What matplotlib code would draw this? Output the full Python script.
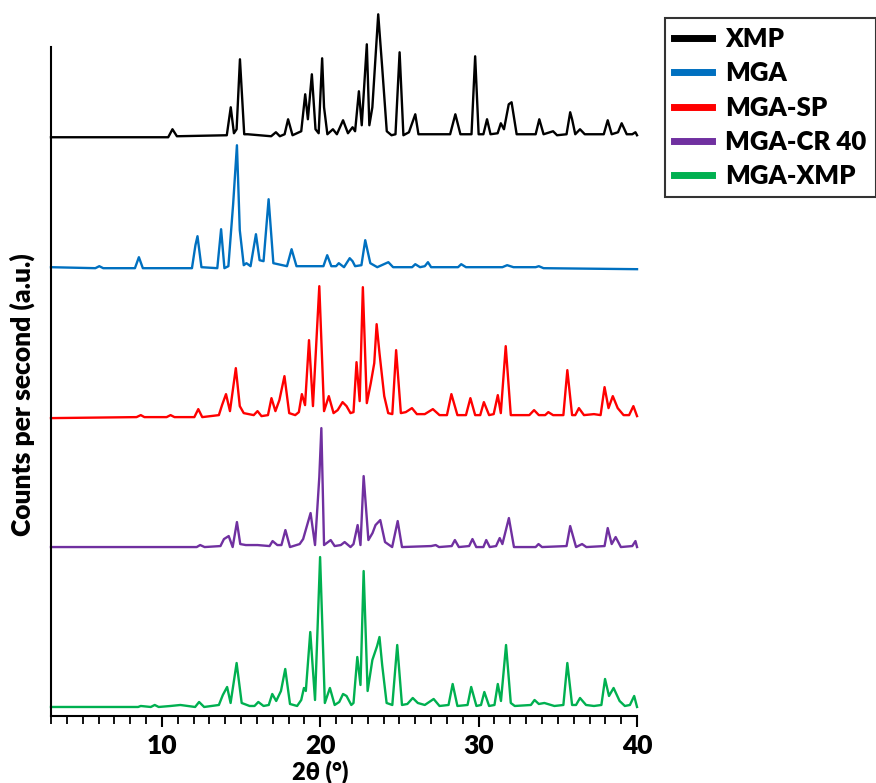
import matplotlib
matplotlib.use("Agg")
import matplotlib.pyplot as plt
from matplotlib.ticker import MultipleLocator

matplotlib.rcParams['font.family'] = ['Lato', 'DejaVu Sans']
matplotlib.rcParams['font.weight'] = 'heavy'

# peak / valley vertices: (2theta, intensity above baseline)
xmp_x = [3.0, 10.4, 10.67, 10.95, 14.1, 14.35, 14.55, 14.72, 14.93, 15.2, 15.42, 16.9, 17.2, 17.45, 17.75, 17.97, 18.25, 18.8, 19.05, 19.22, 19.47, 19.7, 19.9, 20.12, 20.24, 20.45, 20.8, 21.05, 21.44, 21.75, 22.04, 22.2, 22.44, 22.62, 22.94, 23.1, 23.29, 23.66, 23.91, 24.2, 24.5, 24.75, 25.01, 25.25, 25.6, 26.0, 26.2, 27.3, 28.2, 28.53, 28.85, 29.55, 29.78, 30.0, 30.3, 30.53, 30.75, 31.2, 31.4, 31.6, 31.9, 32.08, 32.4, 33.6, 33.83, 34.1, 34.7, 34.95, 35.55, 35.78, 35.9, 36.1, 36.4, 36.7, 37.9, 38.15, 38.4, 38.8, 39.03, 39.35, 39.7, 39.9, 40.0]
xmp_y = [0, 0, 8, 1, 2, 30, 4, 8, 78, 3, 3, 1, 5, 1, 3, 18, 2, 6, 43, 18, 63, 8, 4, 79, 30, 3, 8, 3, 17, 4, 10, 6, 46, 12, 93, 12, 30, 123, 70, 6, 2, 3, 85, 2, 5, 23, 3, 3, 3, 23, 3, 3, 81, 3, 3, 18, 3, 4, 14, 8, 33, 35, 3, 3, 18, 3, 6, 2, 3, 25, 18, 3, 8, 3, 3, 17, 3, 5, 14, 3, 3, 5, 2]

mga_x = [3.0, 5.8, 6.05, 6.3, 8.3, 8.55, 8.8, 11.9, 12.12, 12.25, 12.5, 13.5, 13.74, 13.95, 14.2, 14.5, 14.74, 14.92, 15.17, 15.34, 15.6, 15.94, 16.17, 16.42, 16.74, 17.04, 17.9, 18.19, 18.5, 20.2, 20.44, 20.7, 21.0, 21.17, 21.5, 21.86, 22.04, 22.2, 22.6, 22.84, 23.16, 23.6, 24.3, 24.6, 25.8, 26.0, 26.3, 26.6, 26.8, 27.0, 28.7, 28.9, 29.2, 31.5, 31.8, 32.2, 33.6, 33.8, 34.1, 40.0]
mga_y = [2, 1, 3, 1, 1, 12, 1, 1, 24, 33, 2, 1, 40, 1, 3, 65, 124, 39, 4, 6, 3, 35, 9, 8, 70, 6, 3, 20, 3, 3, 14, 3, 3, 6, 2, 11, 8, 3, 4, 29, 6, 2, 7, 2, 2, 5, 2, 3, 7, 2, 2, 5, 2, 2, 4, 2, 2, 3, 1, 0]

sp_x = [3.0, 8.4, 8.67, 8.9, 10.3, 10.55, 10.8, 12.05, 12.3, 12.55, 13.6, 13.8, 14.05, 14.3, 14.67, 14.92, 15.17, 15.8, 16.04, 16.29, 16.7, 16.92, 17.17, 17.42, 17.74, 18.04, 18.42, 18.65, 18.84, 19.04, 19.29, 19.54, 19.94, 20.24, 20.54, 20.84, 21.1, 21.41, 21.66, 21.91, 22.1, 22.29, 22.49, 22.69, 22.94, 23.19, 23.41, 23.56, 23.74, 24.04, 24.29, 24.55, 24.79, 25.09, 25.4, 25.79, 26.1, 26.6, 27.11, 27.53, 28.0, 28.28, 28.66, 29.2, 29.48, 29.78, 30.1, 30.33, 30.66, 30.95, 31.21, 31.4, 31.71, 32.03, 33.2, 33.5, 33.8, 34.2, 34.4, 34.7, 35.35, 35.6, 35.9, 36.1, 36.33, 36.65, 37.28, 37.7, 37.95, 38.2, 38.47, 38.78, 39.15, 39.5, 39.77, 40.0]
sp_y = [0, 1, 3, 1, 1, 3, 1, 1, 9, 1, 3, 13, 24, 7, 50, 12, 5, 3, 7, 2, 3, 20, 7, 18, 42, 5, 3, 6, 24, 13, 78, 12, 132, 7, 22, 5, 8, 16, 12, 5, 6, 56, 17, 131, 15, 35, 55, 94, 65, 22, 5, 4, 68, 5, 6, 10, 4, 4, 9, 3, 3, 24, 3, 3, 20, 3, 3, 16, 3, 4, 23, 5, 72, 3, 3, 8, 3, 3, 6, 3, 3, 48, 3, 3, 10, 3, 4, 3, 31, 10, 22, 10, 3, 3, 12, 2]

cr_x = [3.0, 12.2, 12.42, 12.7, 13.7, 13.92, 14.22, 14.47, 14.74, 14.95, 15.3, 16.04, 16.8, 16.99, 17.29, 17.55, 17.8, 18.09, 18.7, 18.92, 19.39, 19.67, 19.94, 20.07, 20.24, 20.66, 20.91, 21.3, 21.54, 21.91, 22.1, 22.36, 22.54, 22.74, 23.04, 23.3, 23.49, 23.79, 24.09, 24.54, 24.89, 25.16, 27.0, 27.29, 27.5, 28.3, 28.5, 28.75, 29.4, 29.61, 29.85, 30.3, 30.48, 30.7, 31.1, 31.33, 31.5, 31.91, 32.23, 33.6, 33.78, 34.0, 35.55, 35.78, 36.15, 36.53, 36.8, 37.95, 38.15, 38.4, 38.65, 38.98, 39.7, 39.9, 40.0]
cr_y = [1, 1, 3, 1, 2, 9, 12, 1, 26, 4, 3, 3, 2, 7, 3, 3, 18, 1, 4, 9, 35, 3, 71, 120, 3, 8, 2, 3, 6, 1, 4, 23, 3, 72, 8, 15, 23, 28, 6, 1, 27, 1, 2, 3, 1, 2, 8, 1, 2, 9, 1, 1, 8, 1, 2, 10, 4, 30, 1, 1, 4, 1, 2, 22, 1, 4, 1, 2, 20, 4, 11, 1, 2, 7, 1]

mx_x = [3.0, 8.5, 8.67, 9.3, 9.55, 9.8, 10.55, 11.17, 12.1, 12.35, 12.67, 13.6, 13.85, 14.12, 14.34, 14.72, 15.04, 15.54, 15.85, 16.09, 16.42, 16.75, 16.97, 17.22, 17.52, 17.79, 18.09, 18.54, 18.8, 18.97, 19.09, 19.37, 19.67, 19.99, 20.29, 20.61, 20.91, 21.2, 21.44, 21.66, 21.96, 22.1, 22.34, 22.54, 22.74, 22.99, 23.29, 23.59, 23.74, 23.91, 24.19, 24.55, 24.86, 25.16, 25.5, 25.84, 26.16, 26.6, 27.16, 27.53, 28.1, 28.36, 28.66, 29.3, 29.53, 29.86, 30.15, 30.36, 30.66, 31.0, 31.21, 31.41, 31.73, 32.03, 32.28, 33.3, 33.53, 33.8, 34.15, 34.78, 35.35, 35.6, 35.9, 36.15, 36.4, 36.78, 37.28, 37.75, 37.98, 38.23, 38.52, 38.9, 39.23, 39.55, 39.82, 40.0]
mx_y = [1, 1, 2, 1, 3, 1, 2, 3, 1, 6, 1, 3, 13, 21, 5, 45, 5, 2, 2, 6, 2, 3, 14, 7, 17, 39, 4, 2, 8, 20, 17, 76, 8, 151, 5, 20, 3, 6, 14, 12, 3, 5, 51, 23, 137, 17, 48, 62, 71, 43, 5, 3, 63, 3, 4, 10, 5, 3, 9, 2, 3, 24, 2, 3, 21, 2, 3, 16, 2, 3, 24, 7, 63, 5, 2, 3, 8, 4, 5, 2, 3, 45, 3, 3, 10, 3, 2, 3, 29, 12, 20, 7, 2, 3, 12, 1]

labels = ['XMP', 'MGA', 'MGA-SP', 'MGA-CR 40', 'MGA-XMP']
colors = ['#000000', '#0070C0', '#FF0000', '#7030A0', '#00B050']
offsets = [579, 447, 298, 168, 8]
series = [(xmp_x, xmp_y), (mga_x, mga_y), (sp_x, sp_y), (cr_x, cr_y), (mx_x, mx_y)]

fig = plt.figure(figsize=(8.76, 7.83), dpi=100)
ax = fig.add_axes([0.0582, 0.0856, 0.669, 0.854])

for (x, y), off, c, lab in zip(series, offsets, colors, labels):
    ax.plot(x, [v + off for v in y], color=c, lw=1.7, label=lab, clip_on=False)

ax.set_xlim(3, 40)
ax.set_ylim(0, 669)
ax.spines['top'].set_visible(False)
ax.spines['right'].set_visible(False)
ax.spines['left'].set_linewidth(1.5)
ax.spines['bottom'].set_linewidth(1.5)
ax.set_yticks([])
ax.xaxis.set_major_locator(MultipleLocator(10))
ax.xaxis.set_minor_locator(MultipleLocator(1))
ax.tick_params(axis='x', which='major', direction='out', length=8, width=1.5, labelsize=19, pad=5)
ax.tick_params(axis='x', which='minor', direction='out', length=6, width=1.3)
for t in ax.get_xticklabels():
    t.set_fontweight('heavy')
ax.set_xlabel('2θ (°)', fontsize=17, fontweight='heavy')
ax.xaxis.set_label_coords(0.46, -0.066)
ax.set_ylabel('Counts per second (a.u.)', fontsize=19, fontweight='heavy')
ax.yaxis.set_label_coords(-0.027, 0.48)

leg = fig.legend(loc='upper left', bbox_to_anchor=(0.759, 0.977), fontsize=18.5,
                 frameon=True, fancybox=False, handlelength=1.5, handletextpad=0.5,
                 labelspacing=0.4, borderpad=0.35, borderaxespad=0)
leg.get_frame().set_edgecolor('black')
leg.get_frame().set_linewidth(1.5)
for h in leg.get_lines():
    h.set_linewidth(5)
for t in leg.get_texts():
    t.set_fontweight('heavy')

fig.savefig('out.png', dpi=100)
